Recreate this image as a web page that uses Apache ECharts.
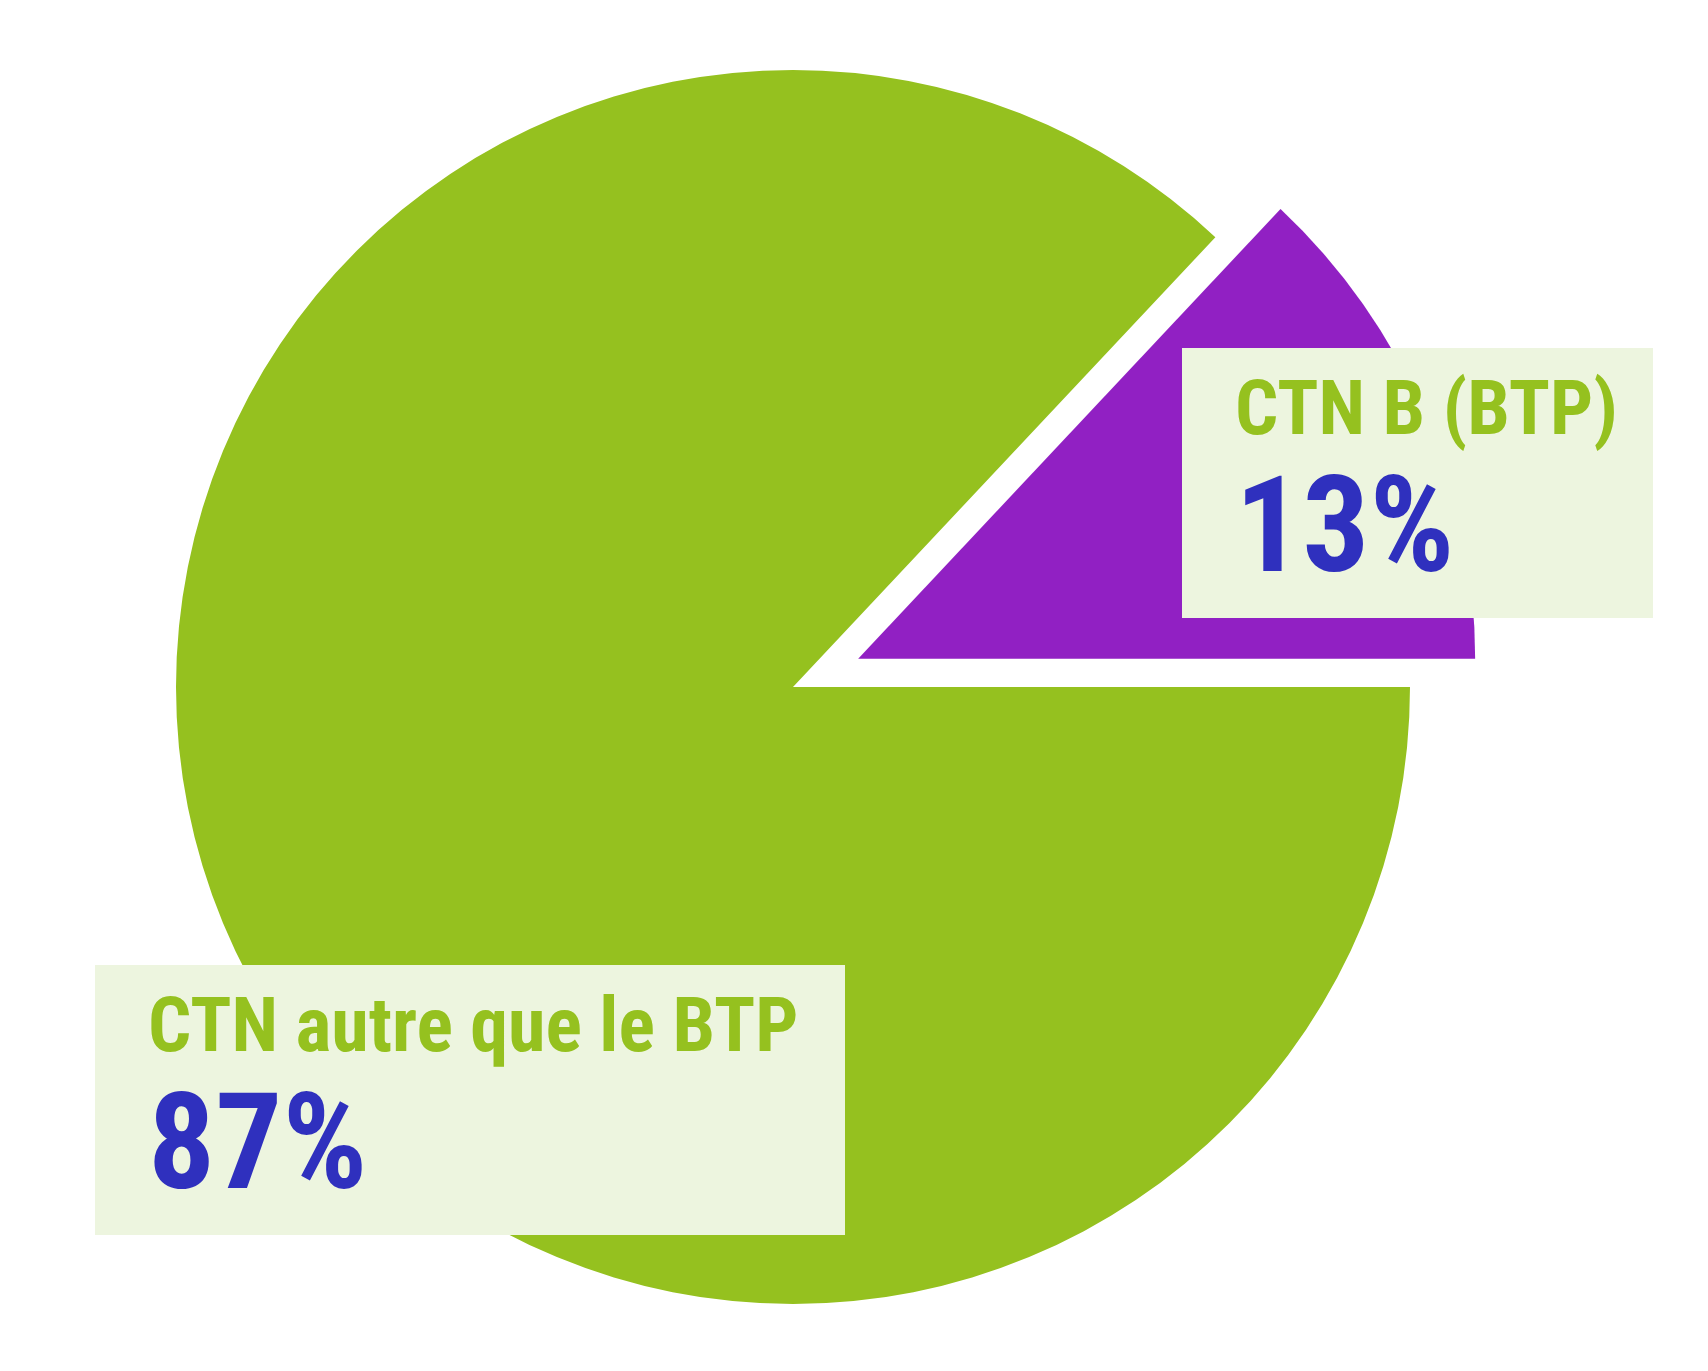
<!DOCTYPE html>
<html>
<head>
<meta charset="utf-8">
<script src="https://cdn.jsdelivr.net/npm/echarts@6/dist/echarts.min.js"></script>
<style>
html,body{margin:0;padding:0;background:#ffffff;}
#chart{width:1708px;height:1371px;}
</style>
</head>
<body>
<div id="chart"></div>
<script>
// ---- data ----
const categories = ['CTN B (BTP)', 'CTN autre que le BTP'];
const shares = [13, 87];
const sliceColors = ['#9120C3', '#95C11F'];
const explodedIndex = 0;

// ---- layout / style ----
const FONT = "'Liberation Sans Narrow', 'Roboto Condensed', Roboto, sans-serif";
const GREEN = '#95C11F';
const BLUE = '#2F30BE';
const BOX_BG = '#EDF5DF';
const CENTER = [793, 687];
const RADIUS = 617;
const EXPLODE = 71;
const boxLayout = [
  { x: 1182, y: 348, w: 471 },
  { x: 95, y: 965, w: 750 }
];
const BOX_H = 270;
const PAD_L = 53;

const total = shares.reduce((a, b) => a + b, 0);
const startAngle = shares[0] / total * 360;
// mid angle of exploded slice (degrees, counter-clockwise from east)
let acc = 0;
for (let i = 0; i < explodedIndex; i++) acc += shares[i];
const midDeg = startAngle - (acc + shares[explodedIndex] / 2) / total * 360;
const midRad = midDeg * Math.PI / 180;
const explodedCenter = [CENTER[0] + EXPLODE * Math.cos(midRad), CENTER[1] - EXPLODE * Math.sin(midRad)];

const chart = echarts.init(document.getElementById('chart'), null, { renderer: 'canvas' });

function buildData(visibleFn) {
  return categories.map((name, i) => {
    const vis = visibleFn(i);
    return {
      name: name,
      value: shares[i],
      itemStyle: { color: vis ? sliceColors[i] : 'rgba(0,0,0,0)' },
      label: { show: vis, width: boxLayout[i].w - PAD_L }
    };
  });
}

const labelOpt = {
  position: 'outside',
  backgroundColor: BOX_BG,
  padding: [0, 0, BOX_H - 246, PAD_L],
  align: 'left',
  formatter: function (p) {
    return '{name|' + p.name + '}\n{val|' + Math.round(p.percent) + '%}';
  },
  rich: {
    name: {
      fontFamily: FONT, fontWeight: 'bold', fontSize: 76,
      color: GREEN, lineHeight: 134, align: 'left'
    },
    val: {
      fontFamily: FONT, fontWeight: 'bold', fontSize: 133,
      color: BLUE, lineHeight: 112, align: 'left'
    }
  }
};

function labelLayoutFn(params) {
  const b = boxLayout[params.dataIndex];
  return { x: b.x, y: b.y, align: 'left', verticalAlign: 'top', hideOverlap: false };
}

function pieSeries(center, visibleFn, z) {
  return {
    type: 'pie',
    z: z,
    center: center,
    radius: RADIUS,
    startAngle: startAngle,
    clockwise: true,
    silent: true,
    avoidLabelOverlap: false,
    emphasis: { disabled: true },
    labelLine: { show: false },
    label: labelOpt,
    labelLayout: labelLayoutFn,
    data: buildData(visibleFn)
  };
}

chart.setOption({
  backgroundColor: '#ffffff',
  animation: false,
  series: [
    pieSeries(CENTER, i => i !== explodedIndex, 2),
    pieSeries(explodedCenter, i => i === explodedIndex, 2)
  ]
});
</script>
</body>
</html>
